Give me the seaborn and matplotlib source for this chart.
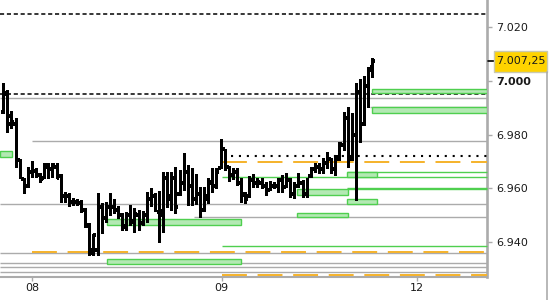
import numpy as np
import pandas as pd
import matplotlib
matplotlib.use("Agg")
import matplotlib.pyplot as plt
import matplotlib.transforms as mtransforms
from matplotlib.patches import Rectangle
from matplotlib.lines import Line2D
import seaborn as sns

# ---------------- data ----------------
high = [6999.25, 6996.5, 6988.75, 6986.0, 6971.0, 6963.75, 6968.0, 6970.25, 6967.5, 6965.75,
        6969.5, 6969.5, 6969.5, 6969.5, 6965.25, 6958.5, 6958.25, 6956.5, 6956.0, 6955.75,
        6952.75, 6947.0, 6943.0, 6958.25, 6954.5, 6955.0, 6958.25, 6956.0, 6953.5, 6950.75,
        6951.25, 6953.75, 6952.75, 6952.0, 6951.5, 6958.5, 6960.0, 6958.25, 6959.0, 6966.0,
        6966.0, 6966.0, 6968.0, 6966.75, 6973.0, 6968.75, 6967.5, 6965.25, 6960.5, 6960.5,
        6963.75, 6967.5, 6967.5, 6978.25, 6974.5, 6968.25, 6967.5, 6967.5, 6963.75, 6958.5,
        6964.5, 6965.25, 6963.75, 6963.75, 6962.25, 6962.75, 6962.25, 6963.75, 6965.0, 6965.75,
        6963.75, 6962.25, 6965.75, 6963.0, 6963.75, 6968.0, 6969.5, 6969.5, 6971.25, 6973.5,
        6971.25, 6972.5, 6977.25, 6988.5, 6990.25, 6988.0, 6999.25, 7000.75, 7001.75, 7005.0,
        7008.5]
low = [6988.0, 6981.0, 6982.5, 6968.0, 6963.75, 6958.25, 6960.5, 6964.25, 6964.25, 6962.25,
       6963.75, 6963.75, 6964.25, 6963.75, 6955.0, 6955.0, 6953.5, 6953.75, 6953.75, 6951.25,
       6945.5, 6935.25, 6935.25, 6935.25, 6943.25, 6947.5, 6950.0, 6950.75, 6949.0, 6944.5,
       6944.5, 6946.25, 6943.75, 6944.5, 6946.25, 6947.5, 6953.5, 6951.5, 6940.0, 6943.75,
       6953.0, 6952.0, 6950.75, 6957.5, 6959.25, 6953.75, 6953.75, 6954.25, 6949.25, 6951.5,
       6954.5, 6958.5, 6960.0, 6967.5, 6966.75, 6962.75, 6963.5, 6961.25, 6955.0, 6954.5,
       6956.75, 6960.5, 6960.5, 6960.0, 6957.5, 6959.25, 6960.0, 6958.5, 6958.5, 6960.5,
       6956.75, 6956.5, 6960.5, 6956.75, 6956.75, 6964.25, 6966.0, 6965.75, 6965.75, 6967.5,
       6965.75, 6965.0, 6970.5, 6974.25, 6968.0, 6970.5, 6955.75, 6977.25, 6983.5, 6990.25,
       7001.5]
open_ = [6988.5, 6995.5, 6987.0, 6984.0, 6970.5, 6963.5, 6961.0, 6966.0, 6966.5, 6965.0,
         6964.0, 6968.0, 6967.0, 6968.0, 6964.5, 6957.0, 6957.0, 6955.0, 6955.0, 6954.5,
         6952.0, 6946.0, 6937.0, 6937.0, 6953.0, 6949.0, 6953.0, 6953.0, 6952.0, 6950.0,
         6946.0, 6950.0, 6947.5, 6950.0, 6947.0, 6950.0, 6956.0, 6957.0, 6951.0, 6950.0,
         6964.0, 6957.0, 6964.0, 6958.0, 6962.0, 6966.0, 6961.0, 6956.0, 6958.0, 6952.0,
         6957.0, 6962.0, 6961.0, 6967.5, 6974.5, 6968.0, 6965.0, 6966.0, 6962.0, 6958.0,
         6957.0, 6963.0, 6962.0, 6962.0, 6961.0, 6959.5, 6961.0, 6961.0, 6963.0, 6960.5,
         6963.0, 6958.0, 6961.0, 6962.0, 6958.0, 6964.5, 6967.0, 6968.0, 6967.0, 6969.5,
         6971.0, 6967.0, 6971.0, 6976.0, 6986.0, 6971.0, 6980.0, 6996.0, 6984.0, 6998.0,
         7005.0]
close = [6995.0, 6984.0, 6984.5, 6969.0, 6965.0, 6961.0, 6966.0, 6967.0, 6965.0, 6963.5,
         6968.5, 6967.0, 6968.5, 6964.0, 6957.0, 6957.5, 6955.0, 6955.5, 6954.5, 6952.0,
         6946.5, 6936.0, 6942.5, 6956.0, 6949.0, 6954.0, 6953.5, 6951.5, 6950.0, 6945.5,
         6950.0, 6948.0, 6950.5, 6947.0, 6950.0, 6956.0, 6957.0, 6952.5, 6951.5, 6964.0,
         6956.0, 6964.0, 6953.0, 6962.5, 6966.0, 6961.0, 6955.0, 6961.0, 6952.0, 6956.0,
         6962.5, 6961.0, 6966.0, 6975.0, 6968.0, 6965.0, 6966.5, 6962.5, 6957.5, 6956.0,
         6963.0, 6962.0, 6962.5, 6961.0, 6959.0, 6961.5, 6961.5, 6963.0, 6960.0, 6963.0,
         6958.0, 6961.0, 6962.0, 6958.0, 6962.5, 6967.0, 6968.0, 6967.0, 6969.5, 6971.0,
         6967.0, 6971.5, 6976.5, 6986.0, 6971.0, 6980.0, 6996.0, 6980.0, 6999.5, 7004.0,
         7007.25]

day_tick_pos = [7.0, 53.3, 100.9]
day_labels = ["08", "09", "12"]

ytick_vals = [6940, 6960, 6980, 7000, 7020]
ytick_labels = ["6.940", "6.960", "6.980", "7.000", "7.020"]

last_price = 7007.25
last_label = "7.007,25"

# horizontal levels: price, start (bar index), style
level_price = [7024.75, 6995.25, 6993.75, 6977.5, 6972.0, 6969.75, 6964.25, 6965.9,
               6960.2, 6959.6, 6954.1, 6949.2, 6938.4, 6936.2, 6935.8, 6932.1,
               6930.6, 6928.7, 6927.6, 6990.1]
level_start = [-0.8, -0.8, -0.8, 7.0, 55.5, 53.3, 53.3, 83.8,
               83.8, 83.8, -0.8, 46.5, 53.3, 7.0, -0.8, -0.8,
               -0.8, -0.8, 53.3, 89.4]
level_kind = ["dash", "dash", "gray", "gray", "dot", "orange", "green", "green",
              "green", "green", "gray", "gray", "green", "orange", "gray", "gray",
              "gray", "gray", "orange", "gray"]

# zones: x0, x1 (bar index), top, bottom
zone_x0 = [-0.8, 25.3, 25.3, 71.6, 71.6, 83.8, 83.8, 89.9, 89.9]
zone_x1 = [2.05, 57.9, 57.9, 84.0, 84.0, 91.1, 91.1, 118.0, 118.0]
zone_top = [6973.9, 6948.45, 6933.55, 6959.6, 6950.8, 6965.9, 6956.0, 6996.8, 6990.1]
zone_bot = [6971.5, 6946.45, 6931.7, 6957.6, 6949.2, 6964.3, 6954.1, 6995.3, 6988.1]

# ---------------- style ----------------
sns.set_style("white")
plt.rcParams['font.family'] = ['DejaVu Sans']

GRAY = "#ababab"
ORANGE = "#f5b22a"
GREEN = "#4fcf4f"
FILL = "#b3e9b3"

fig = plt.figure(figsize=(5.5, 3.0), dpi=100)
ax = fig.add_axes([0, 1 - 277 / 300, 487 / 550, 277 / 300])
XMIN, XMAX = -0.8, 118.0
ax.set_xlim(XMIN, XMAX)
ax.set_ylim(6927.0, 7030.05)

# levels
styles = {
    "dash": dict(color="black", lw=1.1, ls=(0, (2.7, 1.8)), z=3.3),
    "dot": dict(color="black", lw=1.5, ls=(0, (1.0, 2.8)), z=3.3),
    "gray": dict(color=GRAY, lw=1.0, ls="-", z=3.0),
    "green": dict(color=GREEN, lw=1.0, ls="-", z=3.1),
    "orange": dict(color=ORANGE, lw=1.4, ls=(0, (12.8, 5.5)), z=3.2),
}
for p, s, k in zip(level_price, level_start, level_kind):
    st = styles[k]
    ax.plot([s, XMAX], [p, p], color=st["color"], lw=st["lw"], ls=st["ls"],
            zorder=st["z"], solid_capstyle="butt", dash_capstyle="butt",
            clip_on=False)

# zones
for x0, x1, t, b in zip(zone_x0, zone_x1, zone_top, zone_bot):
    ax.add_patch(Rectangle((x0, b), x1 - x0, t - b, facecolor=FILL,
                           edgecolor=GREEN, lw=1.0, zorder=3.5))

# OHLC bars
idx = np.arange(len(high))
df = pd.DataFrame({
    "bar": np.repeat(idx, 2),
    "price": np.column_stack([low, high]).ravel(),
})
n_before = len(ax.lines)
sns.lineplot(data=df, x="bar", y="price", units="bar", estimator=None, sort=False,
             color="black", lw=1.8, ax=ax, zorder=5, legend=False)
for line in ax.lines[n_before:]:
    line.set_solid_capstyle("butt")
    line.set_antialiased(False)
ax.hlines(open_, idx - 0.6, idx, color="black", lw=1.5, zorder=5, antialiased=False)
ax.hlines(close, idx, idx + 0.6, color="black", lw=1.5, zorder=5, antialiased=False)

ax.set_xlabel("")
ax.set_ylabel("")

# spines
for s in ["top", "left"]:
    ax.spines[s].set_visible(False)
ax.spines["right"].set_color(GRAY)
ax.spines["right"].set_linewidth(1.9)
ax.spines["bottom"].set_color(GRAY)
ax.spines["bottom"].set_linewidth(1.5)

# ticks
ax.set_xticks(day_tick_pos)
ax.set_xticklabels(day_labels)
ax.tick_params(axis="x", length=3.0, width=1.0, color=GRAY, pad=1.5,
               labelsize=8, labelcolor="#1a1a1a", bottom=True)
ax.yaxis.tick_right()
ax.set_yticks(ytick_vals)
ax.set_yticklabels(ytick_labels)
ax.tick_params(axis="y", length=3.6, width=1.0, color=GRAY, pad=2.8,
               labelsize=8, labelcolor="#1a1a1a", right=True, left=False)
for lab, v in zip(ax.get_yticklabels(), ytick_vals):
    if v == 7000:
        lab.set_fontweight("bold")

# last price marker
blend = mtransforms.blended_transform_factory(ax.transAxes, ax.transData)
ax.plot([1.003, 1.014], [last_price, last_price], color="black", lw=1.2,
        transform=blend, clip_on=False, zorder=6)
fig.canvas.draw()
ypix = ax.transData.transform((0, last_price))[1]
yfig = ypix / fig.bbox.height
box_h = 20.7 / 300
fig.add_artist(Rectangle((494 / 550, yfig - box_h / 2), 53 / 550, box_h,
                         transform=fig.transFigure, facecolor="#ffd300",
                         edgecolor="#c9c9b0", lw=1.0))
fig.text(496.5 / 550, yfig, last_label, fontsize=8, color="#1a1a1a",
         va="center", ha="left")

# panel border on the right
fig.add_artist(Line2D([547 / 550, 547 / 550], [0, yfig - box_h / 2],
                      transform=fig.transFigure, color=GRAY, lw=1.2))

fig.savefig("out.png", dpi=100)
